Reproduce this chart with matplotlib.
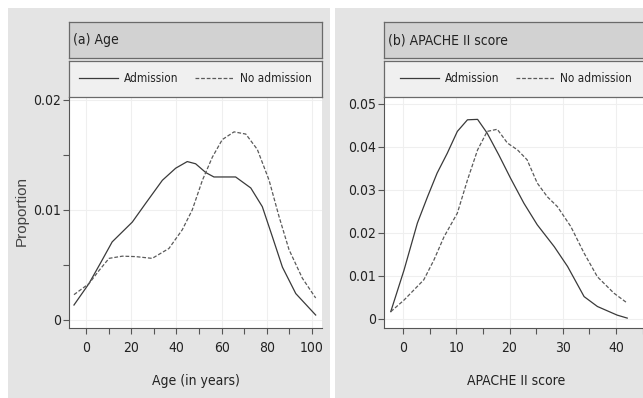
import matplotlib
matplotlib.use("Agg")
import matplotlib.pyplot as plt
from matplotlib.patches import Rectangle
from matplotlib.ticker import MultipleLocator, FixedLocator

# (a) age densities
age_adm = [-5.3, 1.3, 6.5, 11.6, 20.5, 26.4, 33.8, 39.7, 44.8, 48.5, 53, 56.6, 63.3, 66.2, 72.9, 78, 82.4, 86.9, 92.8, 101.6]
prop_adm = [0.00136, 0.0033, 0.0052, 0.0071, 0.0089, 0.0106, 0.0127, 0.0138, 0.0144, 0.0142, 0.0134, 0.0130, 0.0130, 0.0130, 0.0120, 0.0103, 0.0076, 0.0048, 0.0024, 0.00045]
age_no = [-5.3, 1.3, 5.8, 10.2, 16.1, 22, 29.3, 36.7, 42.6, 47, 51.5, 55.9, 60.3, 65.5, 70.7, 75.8, 81, 85.4, 89.8, 95.7, 101.6]
prop_no = [0.0023, 0.0033, 0.0045, 0.0056, 0.0058, 0.00576, 0.0056, 0.0065, 0.0082, 0.0100, 0.0127, 0.0148, 0.0164, 0.0171, 0.0169, 0.0155, 0.0127, 0.0094, 0.0064, 0.0038, 0.0020]

# (b) APACHE II densities
ap_adm = [-2.3, 0.2, 2.7, 4.6, 6.4, 8.3, 10.2, 12.1, 14.0, 15.8, 18.0, 20.2, 22.7, 25.2, 28.4, 30.9, 34.0, 36.5, 40.2, 42.1]
pa_adm = [0.0017, 0.0114, 0.0223, 0.0284, 0.0339, 0.0385, 0.0436, 0.0463, 0.0464, 0.0432, 0.0381, 0.0327, 0.0269, 0.0219, 0.0168, 0.0122, 0.0052, 0.0029, 0.0009, 0.0002]
ap_no = [-2.3, 0.2, 3.9, 5.8, 7.7, 10.2, 12.1, 14.0, 15.8, 17.7, 19.6, 21.5, 23.3, 25.2, 27.1, 29.0, 31.5, 34.0, 36.5, 39.6, 42.1]
pa_no = [0.0017, 0.0044, 0.0091, 0.0137, 0.0191, 0.0246, 0.0323, 0.0393, 0.0436, 0.0441, 0.0409, 0.0393, 0.0370, 0.0316, 0.0284, 0.0261, 0.0215, 0.0153, 0.0098, 0.0060, 0.0037]

plt.rcParams["font.family"] = ["DejaVu Sans"]
plt.rcParams["font.stretch"] = "condensed"

W, H = 643, 398
fig = plt.figure(figsize=(W / 100, H / 100), dpi=100)
fig.patch.set_facecolor("white")


def box(x0, y0, x1, y1):
    # pixel box (top-left origin) -> figure fraction rect
    return [x0 / W, 1 - y1 / H, (x1 - x0) / W, (y1 - y0) / H]


# panel backgrounds
fig.patches.append(Rectangle((8 / W, 0), 322 / W, 1 - 8 / H, transform=fig.transFigure,
                             facecolor="#e4e4e4", edgecolor="none", zorder=-5))
fig.patches.append(Rectangle((335 / W, 0), 308 / W, 1 - 8 / H, transform=fig.transFigure,
                             facecolor="#e4e4e4", edgecolor="none", zorder=-5))

panels = [
    dict(x0=69, x1=322, title="(a) Age", xlabel="Age (in years)",
         xs=(age_adm, age_no), ys=(prop_adm, prop_no),
         xlim=(-7.5, 104.4), ylim=(-0.00073, 0.02027),
         xmaj=20, xmin=10, ymin=0.005, ylabs={0: "0", 0.01: "0.01", 0.02: "0.02"}),
    dict(x0=384, x1=648, title="(b) APACHE II score", xlabel="APACHE II score",
         xs=(ap_adm, ap_no), ys=(pa_adm, pa_no),
         xlim=(-3.57, 46.0), ylim=(-0.0021, 0.0516),
         xmaj=10, xmin=5, ymin=None,
         ylabs={0: "0", 0.01: "0.01", 0.02: "0.02", 0.03: "0.03", 0.04: "0.04", 0.05: "0.05"}),
]

for p in panels:
    # title strip
    tax = fig.add_axes(box(p["x0"], 22, p["x1"], 58))
    tax.set_facecolor("#d2d2d2")
    tax.set_xticks([]); tax.set_yticks([])
    for s in tax.spines.values():
        s.set_color("#6a6a6a"); s.set_linewidth(0.9)
    tax.text(4 / (p["x1"] - p["x0"]), 0.5, p["title"], transform=tax.transAxes, va="center", ha="left",
             fontsize=10, color="#222222")

    # main plot
    ax = fig.add_axes(box(p["x0"], 97, p["x1"], 328))
    ax.set_facecolor("white")
    l1, = ax.plot(p["xs"][0], p["ys"][0], color="#3a3a3a", lw=0.9, ls="-")
    l2, = ax.plot(p["xs"][1], p["ys"][1], color="#5a5a5a", lw=0.9, ls=(0, (3, 1.5)))
    ax.set_xlim(*p["xlim"]); ax.set_ylim(*p["ylim"])
    ax.xaxis.set_major_locator(MultipleLocator(p["xmaj"]))
    ax.xaxis.set_minor_locator(MultipleLocator(p["xmin"]))
    ax.yaxis.set_major_locator(FixedLocator(list(p["ylabs"].keys())))
    ax.set_yticklabels(list(p["ylabs"].values()))
    if p["ymin"]:
        ax.yaxis.set_minor_locator(MultipleLocator(p["ymin"]))
    ax.tick_params(which="both", direction="out", length=4, width=0.8, color="#555555",
                   labelsize=10, labelcolor="#222222", pad=2)
    ax.tick_params(axis="x", pad=5)
    ax.grid(which="major", color="#efefef", lw=0.8)
    ax.set_axisbelow(True)
    for side in ("top", "right"):
        ax.spines[side].set_visible(False)
    for side in ("left", "bottom"):
        ax.spines[side].set_color("#555555"); ax.spines[side].set_linewidth(0.8)
    ax.set_xlabel(p["xlabel"], fontsize=10, color="#222222", labelpad=14)

    # legend strip
    lax = fig.add_axes(box(p["x0"], 61, p["x1"], 97))
    lax.set_facecolor("#f0f0f0")
    lax.set_xticks([]); lax.set_yticks([])
    for s in lax.spines.values():
        s.set_color("#6a6a6a"); s.set_linewidth(0.9)
    lax.legend([l1, l2], ["Admission", "No admission"], loc="center", ncol=2, frameon=False,
               fontsize=8.5, handlelength=3.3, columnspacing=1.4, handletextpad=0.5,
               labelcolor="#222222")

fig.text(22 / W, 1 - 211 / H, "Proportion", rotation=90, ha="center", va="center",
         fontsize=11, color="#444444", family=["Liberation Sans", "DejaVu Sans"],
         fontstretch="normal")

fig.savefig("out.png", dpi=100)
